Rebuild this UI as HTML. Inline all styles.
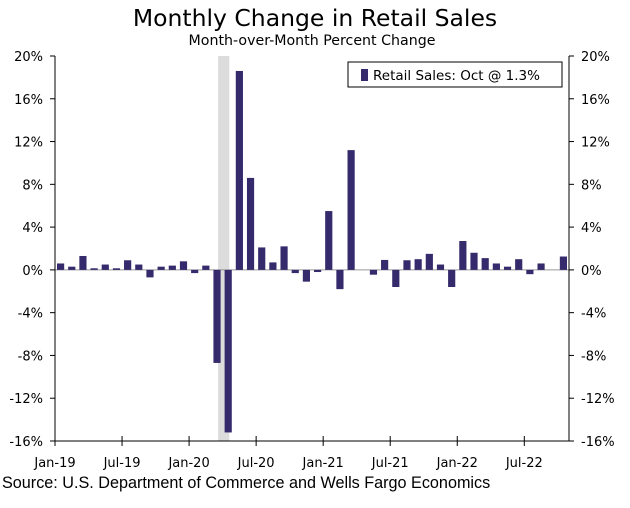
<!DOCTYPE html>
<html><head><meta charset="utf-8"><style>
body{margin:0;background:#fff;width:630px;height:503px;overflow:hidden}
svg text{font-family:"DejaVu Sans",Verdana,sans-serif;fill:#000}
</style></head><body>
<svg id="c" width="630" height="503">
<text x="315" y="26" text-anchor="middle" font-size="23.5">Monthly Change in Retail Sales</text>
<text x="312" y="45" text-anchor="middle" font-size="14.2">Month-over-Month Percent Change</text>
<text x="2" y="488" font-size="16.2" style="font-family:'Liberation Sans',Arial,sans-serif">Source: U.S. Department of Commerce and Wells Fargo Economics</text>
<g id="plot"></g>
</svg>
<script>
const categories=["Jan-19","Feb-19","Mar-19","Apr-19","May-19","Jun-19","Jul-19","Aug-19","Sep-19","Oct-19","Nov-19","Dec-19","Jan-20","Feb-20","Mar-20","Apr-20","May-20","Jun-20","Jul-20","Aug-20","Sep-20","Oct-20","Nov-20","Dec-20","Jan-21","Feb-21","Mar-21","Apr-21","May-21","Jun-21","Jul-21","Aug-21","Sep-21","Oct-21","Nov-21","Dec-21","Jan-22","Feb-22","Mar-22","Apr-22","May-22","Jun-22","Jul-22","Aug-22","Sep-22","Oct-22"];
const retailSales=[0.6,0.3,1.3,0.15,0.5,0.15,0.9,0.5,-0.7,0.3,0.4,0.8,-0.3,0.4,-8.7,-15.2,18.6,8.6,2.1,0.7,2.2,-0.3,-1.1,-0.2,5.5,-1.8,11.2,0.0,-0.45,0.93,-1.6,0.9,1.0,1.5,0.5,-1.6,2.7,1.6,1.1,0.6,0.3,1.0,-0.4,0.6,0.0,1.25];
const yTicks=[20,16,12,8,4,0,-4,-8,-12,-16];
const xTickLabels=["Jan-19","Jul-19","Jan-20","Jul-20","Jan-21","Jul-21","Jan-22","Jul-22"];
const recessionStart=14.6, recessionEnd=15.6;
const NS="http://www.w3.org/2000/svg";
const L=55,R=569,T=56,B=441,ymin=-16,ymax=20;
const slot=(R-L)/categories.length;
const x=i=>L+slot*i;
const y=v=>B-(v-ymin)/(ymax-ymin)*(B-T);
const g=document.getElementById('plot');
function mk(t,a){const e=document.createElementNS(NS,t);for(const k in a)e.setAttribute(k,a[k]);g.appendChild(e);return e;}
let sh=mk('rect',{x:x(recessionStart),y:T,width:x(recessionEnd)-x(recessionStart),height:B-T,fill:'#dcdcdc'});


mk('line',{x1:L,x2:R,y1:y(0),y2:y(0),stroke:'#999','stroke-width':1});
retailSales.forEach((v,i)=>{
 const b=mk('rect',{x:x(i)+2,y:Math.min(y(v),y(0)),width:slot-4,height:Math.abs(y(v)-y(0)),fill:'#352a6b'});
 
 
});
mk('line',{x1:L,x2:L,y1:T,y2:B,stroke:'#000'});
mk('line',{x1:R,x2:R,y1:T,y2:B,stroke:'#000'});
mk('line',{x1:L,x2:R,y1:B,y2:B,stroke:'#000'});
yTicks.forEach(v=>{
 mk('line',{x1:L-5,x2:L,y1:y(v),y2:y(v),stroke:'#000'});
 mk('line',{x1:R,x2:R+5,y1:y(v),y2:y(v),stroke:'#000'});
 const a=mk('text',{x:L-12,y:y(v)+5,'text-anchor':'end','font-size':13});a.textContent=v+'%';
 
 
 const b=mk('text',{x:R+12,y:y(v)+5,'font-size':13});b.textContent=v+'%';
 
 
});
xTickLabels.forEach(lbl=>{
 const i=categories.indexOf(lbl);
 mk('line',{x1:x(i),x2:x(i),y1:B-5,y2:B+5,stroke:'#000'});
 const t=mk('text',{x:x(i),y:B+26,'text-anchor':'middle','font-size':13});t.textContent=lbl;
 
 
});
const lg=mk('rect',{x:348,y:62,width:214,height:25,fill:'#fff',stroke:'#000'});


mk('rect',{x:361,y:69,width:7,height:12,fill:'#352a6b'});
const lt=mk('text',{x:373,y:80,'font-size':13.5});lt.textContent='Retail Sales: Oct @ 1.3%';


</script>
</body></html>
